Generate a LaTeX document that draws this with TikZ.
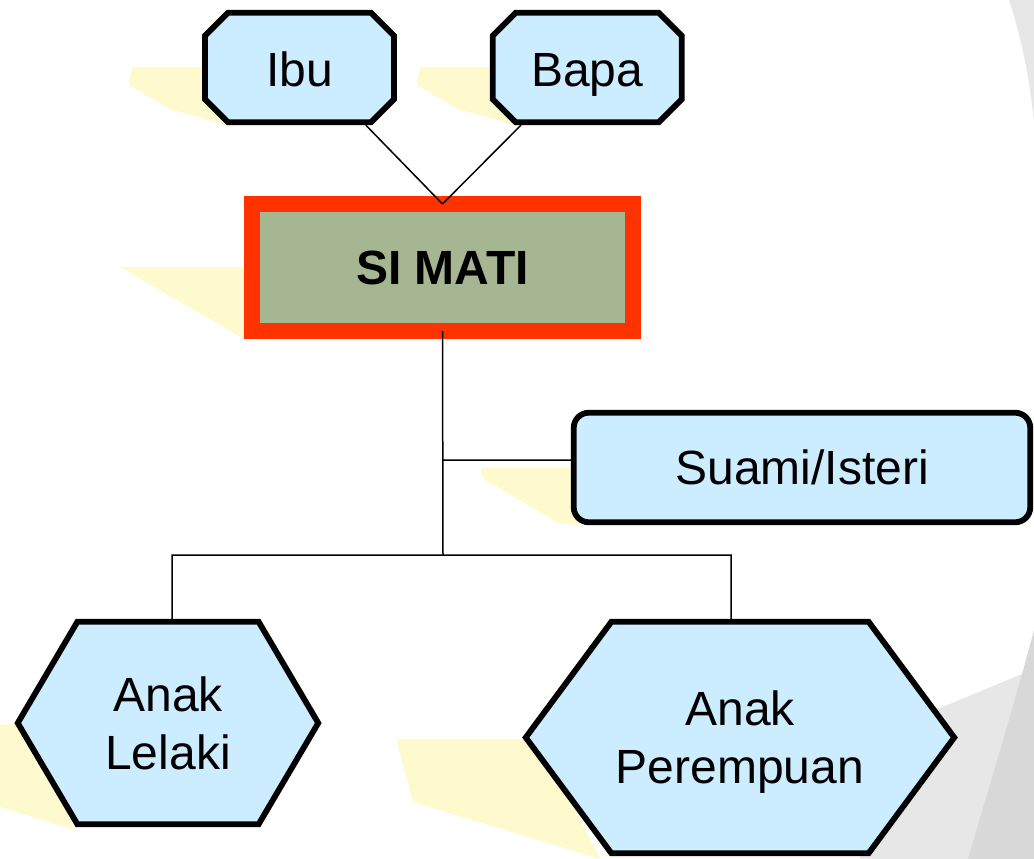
\documentclass[tikz,border=0pt]{standalone}
\usepackage{fontspec}
\setmainfont{Liberation Sans}
\usetikzlibrary{positioning, shapes.misc, shapes.symbols}

\definecolor{boxblue}{RGB}{204,236,255}
\definecolor{simatigreen}{RGB}{166,181,146}
\definecolor{simatired}{RGB}{255,51,0}
\definecolor{shadeyellow}{RGB}{255,250,205}
\definecolor{decolight}{RGB}{231,231,231}
\definecolor{decodark}{RGB}{216,216,216}

\begin{document}
\begin{tikzpicture}[x=1pt, y=-1pt]
		\tikzset{
			kin/.style={draw, line width=5.8pt, fill=boxblue, align=center, inner sep=0pt,
				font=\fontsize{48}{58}\selectfont},
			parent/.style={kin, chamfered rectangle, chamfered rectangle xsep=32pt,
				minimum width=189pt, minimum height=109.5pt, text height=39pt, text depth=0pt},
			child/.style={kin, signal, signal to=east and west},
			spouse/.style={kin, rectangle, rounded corners=15pt,
				minimum width=456.5pt, minimum height=109.5pt},
			deceased/.style={draw=simatired, line width=16pt, fill=simatigreen, rectangle,
				outer sep=0pt, minimum width=381pt, minimum height=127pt,
				font=\fontsize{48}{58}\selectfont\bfseries},
			link/.style={draw, line width=1.5pt},
			shade/.style={fill=shadeyellow, draw=none},
		}
		\useasboundingbox (0,0) rectangle (1034,859);

		%grey bg on the right
		\fill[decolight] (1009,0) .. controls (1022,40) and (1030,80) .. (1034,123) -- (1034,0) -- cycle;
		\fill[decolight] (880,733) -- (1034,669) -- (1034,859) -- (860,859) -- cycle;
		\fill[decodark] (1034,630) .. controls (1010,720) and (985,800) .. (968,859) -- (1034,859) -- cycle;

		%yellow shades
		\fill[shade] (132,67) -- (220,67) -- (233,127) -- (172,110) -- (129,85) -- cycle;
		\fill[shade] (420,67) -- (510,67) -- (522,127) -- (460,110) -- (417,85) -- cycle;
		\fill[shade] (120,267) -- (250,267) -- (244,339) -- cycle;
		\fill[shade, rounded corners=4pt] (480,468) -- (580,468) -- (580,525) -- (560,524) -- (482,478) -- cycle;
		\fill[shade] (0,725) -- (30,723) -- (74,830) -- (0,807) -- cycle;
		\fill[shade] (396,739) -- (540,739) -- (600,859) -- (413,802) -- cycle;

		%nodes
		\node (simati) [deceased] at (442.5,267.5) {SI MATI};
		\node (ibu) [parent] at (299.5,67.5) {Ibu};
		\node (bapa) [parent, right=93pt of ibu] {Bapa};
		\node (sm) [spouse] at (802,467.5) {Suami/Isteri};
		\node (al) [child, signal pointer angle=119, minimum width=300.5pt, minimum height=202.5pt]
					at (168,723) {Anak\\ Lelaki};
		\node (ap) [child, signal pointer angle=107, minimum width=428.5pt, minimum height=231.5pt,
					text depth=0pt] at (740,737.5) {Anak\\ Perempuan};

		\coordinate (sj) at (443,460);  %% branch to Suami/Isteri
		\coordinate (jn) at (443,555);  %% branch to the children
		\path[link] (ibu.-41) -- (simati.north)
					(bapa.-139) -- (simati.north)
					(simati.south) -- (jn)
					(sj) -- (sj -| sm.west)
					([xshift=4pt]al.north) |- (jn) -| ([xshift=-9pt]ap.north);

\end{tikzpicture}
\end{document}
